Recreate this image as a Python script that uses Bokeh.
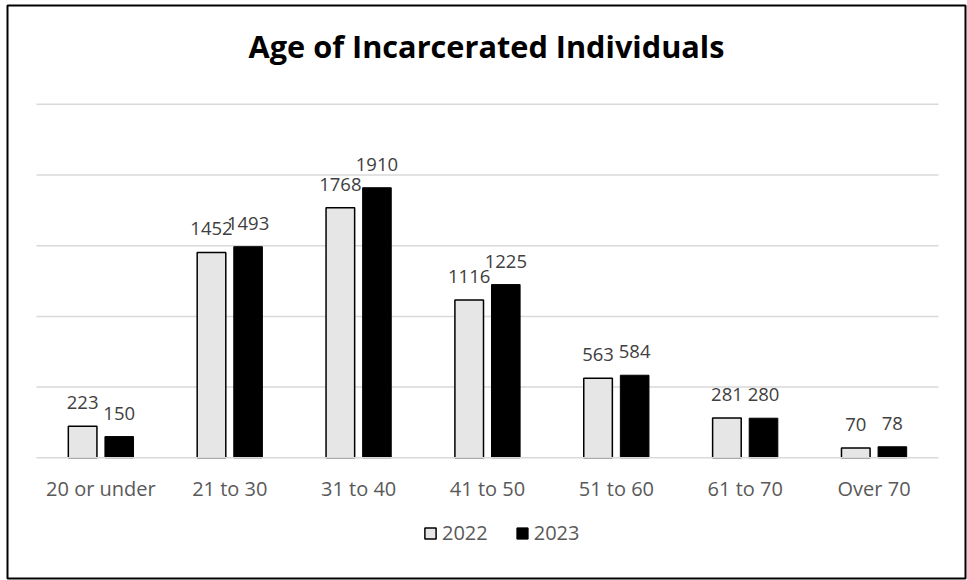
from bokeh.plotting import figure
from bokeh.models import (Range1d, LinearAxis, FixedTicker, Legend, LegendItem,
                          Label, ColumnDataSource)
from bokeh.core.properties import value
from bokeh.embed import file_html
from bokeh.resources import INLINE

# ---- data ----
categories = ["20 or under", "21 to 30", "31 to 40", "41 to 50", "51 to 60", "61 to 70", "Over 70"]
values_2022 = [223, 1452, 1768, 1116, 563, 281, 70]
values_2023 = [150, 1493, 1910, 1225, 584, 280, 78]
series_names = ["2022", "2023"]
grid_values = [0, 500, 1000, 1500, 2000, 2500]
title_text = "Age of Incarcerated Individuals"

# ---- geometry (screen px of the reference) ----
W, H = 967, 580
FL, FR, FT, FB = 7, 965, 5, 578          # frame edges (outline border)
PL, PR = 36, 938                          # plot area left/right
Y0, YTOP = 457.3, 103.8                   # y of 0 and 2500
ncat = len(categories)
px_per_cat = (PR - PL) / ncat
px_per_unit = (Y0 - YTOP) / 2500.0

def dx(sx):
    return (sx - PL) / px_per_cat

def dy(sy):
    return (Y0 - sy) / px_per_unit

FONT = "Open Sans"

p = figure(width=W, height=H, output_backend="svg", toolbar_location=None,
           x_axis_location=None, y_axis_location=None,
           min_border_left=FL, min_border_right=W - FR,
           min_border_top=FT, min_border_bottom=H - FB,
           x_range=Range1d(dx(FL), dx(FR)), y_range=Range1d(dy(FB), dy(FT)),
           background_fill_color="white", border_fill_color="white")
p.outline_line_color = "black"
p.outline_line_width = 2
p.xgrid.visible = False
p.ygrid.visible = False

# gridlines behind bars
gl = [g for g in grid_values if g > 0]
p.segment(x0=[0] * len(gl), x1=[ncat] * len(gl), y0=gl, y1=gl,
          line_color="#d9d9d9", line_width=1.5)

off = 0.142
bw = 0.222
x_a = [i + 0.5 - off for i in range(ncat)]
x_b = [i + 0.5 + off for i in range(ncat)]
src_a = ColumnDataSource(dict(x=x_a, top=values_2022, lab=[str(v) for v in values_2022]))
src_b = ColumnDataSource(dict(x=x_b, top=values_2023, lab=[str(v) for v in values_2023]))

r_a = p.vbar(x="x", top="top", bottom=0, width=bw, source=src_a,
             fill_color="#e7e6e6", line_color="black", line_width=1.5)
r_b = p.vbar(x="x", top="top", bottom=0, width=bw, source=src_b,
             fill_color="black", line_color="black", line_width=1)

# baseline over bars
p.segment(x0=[0], x1=[ncat], y0=[grid_values[0]], y1=[grid_values[0]],
          line_color="#d9d9d9", line_width=1.5)

# data labels
for src in (src_a, src_b):
    p.text(x="x", y="top", text="lab", source=src, text_align="center",
           text_baseline="alphabetic", y_offset=-23.5,
           text_font=value(FONT), text_font_size="18.5px", text_color="#404040")

# category axis drawn at y = 0
ticks = [i + 0.5 for i in range(ncat)]
xaxis = LinearAxis(fixed_location=0, ticker=FixedTicker(ticks=ticks),
                   major_label_overrides={t: c for t, c in zip(ticks, categories)})
xaxis.axis_line_color = None
xaxis.major_tick_line_color = None
xaxis.minor_tick_line_color = None
xaxis.major_tick_in = 0
xaxis.major_tick_out = 0
xaxis.major_label_standoff = 17
xaxis.major_label_text_font = FONT
xaxis.major_label_text_font_size = "20px"
xaxis.major_label_text_color = "#595959"
p.add_layout(xaxis, "below")

# title
p.add_layout(Label(x=dx((FL + FR) / 2), y=dy(45.5), text=title_text,
                   text_align="center", text_baseline="alphabetic",
                   text_font=FONT, text_font_size="30.7px",
                   text_font_style="bold", text_color="black"))

# legend
legend = Legend(items=[LegendItem(label=series_names[0], renderers=[r_a]),
                       LegendItem(label=series_names[1], renderers=[r_b])],
                orientation="horizontal", location=(423 - FL, FB - 546),
                padding=0, margin=0, spacing=27, label_standoff=5,
                glyph_width=14, glyph_height=14, label_height=14,
                label_text_font=FONT, label_text_font_size="20px",
                label_text_color="#595959",
                border_line_color=None, background_fill_alpha=0)
p.add_layout(legend, "center")

open("out.html", "w").write(file_html(p, INLINE))
